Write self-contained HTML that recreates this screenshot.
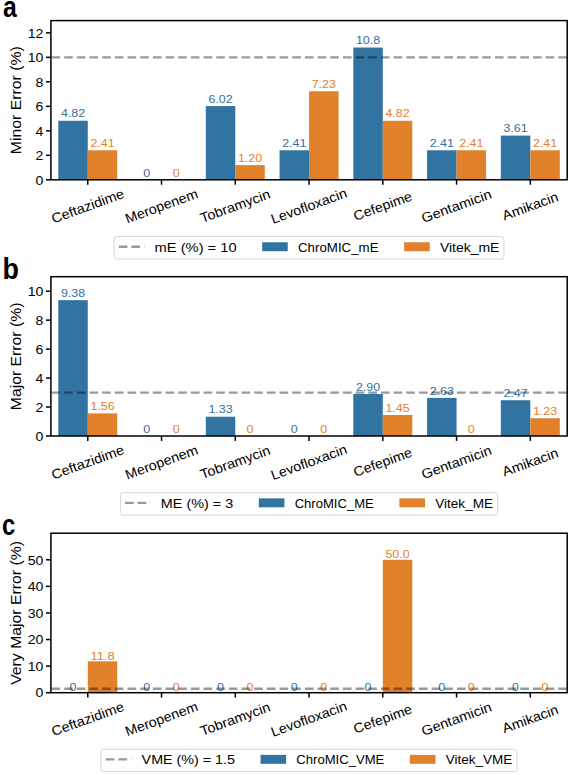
<!DOCTYPE html>
<html><head><meta charset="utf-8"><style>html,body{margin:0;padding:0;background:#fff;width:569px;height:775px;overflow:hidden}</style></head>
<body><svg width="569" height="775" viewBox="0 0 569 775" style="display:block">
<rect width="569" height="775" fill="#fff"/>
<g font-family='"Liberation Sans", sans-serif'>
<rect x="58.28" y="120.77" width="29.5" height="59.03" fill="#3274a1"/>
<rect x="87.78" y="150.29" width="29.5" height="29.51" fill="#e1812c"/>
<rect x="205.79" y="106.08" width="29.5" height="73.72" fill="#3274a1"/>
<rect x="235.29" y="165.1" width="29.5" height="14.7" fill="#e1812c"/>
<rect x="279.55" y="150.29" width="29.5" height="29.51" fill="#3274a1"/>
<rect x="309.05" y="91.26" width="29.5" height="88.54" fill="#e1812c"/>
<rect x="353.3" y="47.54" width="29.5" height="132.26" fill="#3274a1"/>
<rect x="382.81" y="120.77" width="29.5" height="59.03" fill="#e1812c"/>
<rect x="427.06" y="150.29" width="29.5" height="29.51" fill="#3274a1"/>
<rect x="456.56" y="150.29" width="29.5" height="29.51" fill="#e1812c"/>
<rect x="500.82" y="135.59" width="29.5" height="44.21" fill="#3274a1"/>
<rect x="530.32" y="150.29" width="29.5" height="29.51" fill="#e1812c"/>
<rect x="50.9" y="20.6" width="516.3" height="159.2" fill="none" stroke="#000" stroke-width="1.5" stroke-linejoin="miter"/>
<line x1="46" y1="179.8" x2="50.9" y2="179.8" stroke="#000" stroke-width="1.5"/>
<text x="43.4" y="184.53" font-size="13.2" text-anchor="end" fill="#000" textLength="7.83" lengthAdjust="spacingAndGlyphs">0</text>
<line x1="46" y1="155.31" x2="50.9" y2="155.31" stroke="#000" stroke-width="1.5"/>
<text x="43.4" y="160.03" font-size="13.2" text-anchor="end" fill="#000" textLength="7.83" lengthAdjust="spacingAndGlyphs">2</text>
<line x1="46" y1="130.82" x2="50.9" y2="130.82" stroke="#000" stroke-width="1.5"/>
<text x="43.4" y="135.54" font-size="13.2" text-anchor="end" fill="#000" textLength="7.83" lengthAdjust="spacingAndGlyphs">4</text>
<line x1="46" y1="106.32" x2="50.9" y2="106.32" stroke="#000" stroke-width="1.5"/>
<text x="43.4" y="111.05" font-size="13.2" text-anchor="end" fill="#000" textLength="7.83" lengthAdjust="spacingAndGlyphs">6</text>
<line x1="46" y1="81.83" x2="50.9" y2="81.83" stroke="#000" stroke-width="1.5"/>
<text x="43.4" y="86.56" font-size="13.2" text-anchor="end" fill="#000" textLength="7.83" lengthAdjust="spacingAndGlyphs">8</text>
<line x1="46" y1="57.34" x2="50.9" y2="57.34" stroke="#000" stroke-width="1.5"/>
<text x="43.4" y="62.06" font-size="13.2" text-anchor="end" fill="#000" textLength="15.65" lengthAdjust="spacingAndGlyphs">10</text>
<line x1="46" y1="32.85" x2="50.9" y2="32.85" stroke="#000" stroke-width="1.5"/>
<text x="43.4" y="37.57" font-size="13.2" text-anchor="end" fill="#000" textLength="15.65" lengthAdjust="spacingAndGlyphs">12</text>
<line x1="87.78" y1="179.8" x2="87.78" y2="184.7" stroke="#000" stroke-width="1.5"/>
<text x="87.78" y="210.69" font-size="13.6" text-anchor="middle" fill="#000" textLength="76.26" lengthAdjust="spacingAndGlyphs" transform="rotate(-20 87.78 206.2)">Ceftazidime</text>
<line x1="161.54" y1="179.8" x2="161.54" y2="184.7" stroke="#000" stroke-width="1.5"/>
<text x="161.54" y="210.69" font-size="13.6" text-anchor="middle" fill="#000" textLength="76.19" lengthAdjust="spacingAndGlyphs" transform="rotate(-20 161.54 206.2)">Meropenem</text>
<line x1="235.29" y1="179.8" x2="235.29" y2="184.7" stroke="#000" stroke-width="1.5"/>
<text x="235.29" y="210.69" font-size="13.6" text-anchor="middle" fill="#000" textLength="73.46" lengthAdjust="spacingAndGlyphs" transform="rotate(-20 235.29 206.2)">Tobramycin</text>
<line x1="309.05" y1="179.8" x2="309.05" y2="184.7" stroke="#000" stroke-width="1.5"/>
<text x="309.05" y="210.69" font-size="13.6" text-anchor="middle" fill="#000" textLength="79.81" lengthAdjust="spacingAndGlyphs" transform="rotate(-20 309.05 206.2)">Levofloxacin</text>
<line x1="382.81" y1="179.8" x2="382.81" y2="184.7" stroke="#000" stroke-width="1.5"/>
<text x="382.81" y="210.69" font-size="13.6" text-anchor="middle" fill="#000" textLength="61.22" lengthAdjust="spacingAndGlyphs" transform="rotate(-20 382.81 206.2)">Cefepime</text>
<line x1="456.56" y1="179.8" x2="456.56" y2="184.7" stroke="#000" stroke-width="1.5"/>
<text x="456.56" y="210.69" font-size="13.6" text-anchor="middle" fill="#000" textLength="73.5" lengthAdjust="spacingAndGlyphs" transform="rotate(-20 456.56 206.2)">Gentamicin</text>
<line x1="530.32" y1="179.8" x2="530.32" y2="184.7" stroke="#000" stroke-width="1.5"/>
<text x="530.32" y="210.69" font-size="13.6" text-anchor="middle" fill="#000" textLength="58.52" lengthAdjust="spacingAndGlyphs" transform="rotate(-20 530.32 206.2)">Amikacin</text>
<text x="73.03" y="117.47" font-size="11.8" text-anchor="middle" fill="#3274a1" textLength="24.27" lengthAdjust="spacingAndGlyphs">4.82</text>
<text x="102.53" y="146.99" font-size="11.8" text-anchor="middle" fill="#e1812c" textLength="24.27" lengthAdjust="spacingAndGlyphs">2.41</text>
<text x="146.78" y="176.5" font-size="11.8" text-anchor="middle" fill="#3274a1" textLength="6.93" lengthAdjust="spacingAndGlyphs">0</text>
<text x="176.29" y="176.5" font-size="11.8" text-anchor="middle" fill="#e1812c" textLength="6.93" lengthAdjust="spacingAndGlyphs">0</text>
<text x="220.54" y="102.78" font-size="11.8" text-anchor="middle" fill="#3274a1" textLength="24.27" lengthAdjust="spacingAndGlyphs">6.02</text>
<text x="250.04" y="161.8" font-size="11.8" text-anchor="middle" fill="#e1812c" textLength="24.27" lengthAdjust="spacingAndGlyphs">1.20</text>
<text x="294.3" y="146.99" font-size="11.8" text-anchor="middle" fill="#3274a1" textLength="24.27" lengthAdjust="spacingAndGlyphs">2.41</text>
<text x="323.8" y="87.96" font-size="11.8" text-anchor="middle" fill="#e1812c" textLength="24.27" lengthAdjust="spacingAndGlyphs">7.23</text>
<text x="368.06" y="44.24" font-size="11.8" text-anchor="middle" fill="#3274a1" textLength="24.27" lengthAdjust="spacingAndGlyphs">10.8</text>
<text x="397.56" y="117.47" font-size="11.8" text-anchor="middle" fill="#e1812c" textLength="24.27" lengthAdjust="spacingAndGlyphs">4.82</text>
<text x="441.81" y="146.99" font-size="11.8" text-anchor="middle" fill="#3274a1" textLength="24.27" lengthAdjust="spacingAndGlyphs">2.41</text>
<text x="471.32" y="146.99" font-size="11.8" text-anchor="middle" fill="#e1812c" textLength="24.27" lengthAdjust="spacingAndGlyphs">2.41</text>
<text x="515.57" y="132.29" font-size="11.8" text-anchor="middle" fill="#3274a1" textLength="24.27" lengthAdjust="spacingAndGlyphs">3.61</text>
<text x="545.07" y="146.99" font-size="11.8" text-anchor="middle" fill="#e1812c" textLength="24.27" lengthAdjust="spacingAndGlyphs">2.41</text>
<line x1="51.5" y1="57.34" x2="567.2" y2="57.34" stroke="#000" stroke-opacity="0.4" stroke-width="2.35" stroke-dasharray="8.65 4.02"/>
<text x="20.9" y="100.2" font-size="14.2" text-anchor="middle" fill="#000" textLength="107.94" lengthAdjust="spacingAndGlyphs" transform="rotate(-90 20.9 100.2)">Minor Error (%)</text>
<rect x="114.19" y="236.6" width="389.72" height="22.4" rx="2.5" fill="#fff" fill-opacity="0.8" stroke="#d6d6d6" stroke-width="1"/>
<line x1="118.79" y1="246.7" x2="144.39" y2="246.7" stroke="#000" stroke-opacity="0.4" stroke-width="2.35" stroke-dasharray="8.65 4.02"/>
<text x="154.63" y="251.6" font-size="13.2" text-anchor="start" fill="#000" textLength="81.93" lengthAdjust="spacingAndGlyphs">mE (%) = 10</text>
<rect x="262.16" y="242.25" width="25.6" height="8.96" fill="#3274a1"/>
<text x="298" y="251.6" font-size="13.2" text-anchor="start" fill="#000" textLength="80.58" lengthAdjust="spacingAndGlyphs">ChroMIC_mE</text>
<rect x="404.17" y="242.25" width="25.6" height="8.96" fill="#e1812c"/>
<text x="440.01" y="251.6" font-size="13.2" text-anchor="start" fill="#000" textLength="59.29" lengthAdjust="spacingAndGlyphs">Vitek_mE</text>
</g>
<g font-family='"Liberation Sans", sans-serif'>
<rect x="58.28" y="300.16" width="29.5" height="135.84" fill="#3274a1"/>
<rect x="87.78" y="413.41" width="29.5" height="22.59" fill="#e1812c"/>
<rect x="205.79" y="416.74" width="29.5" height="19.26" fill="#3274a1"/>
<rect x="353.3" y="394" width="29.5" height="42" fill="#3274a1"/>
<rect x="382.81" y="415" width="29.5" height="21" fill="#e1812c"/>
<rect x="427.06" y="397.91" width="29.5" height="38.09" fill="#3274a1"/>
<rect x="500.82" y="400.23" width="29.5" height="35.77" fill="#3274a1"/>
<rect x="530.32" y="418.19" width="29.5" height="17.81" fill="#e1812c"/>
<rect x="50.9" y="276.7" width="516.3" height="159.3" fill="none" stroke="#000" stroke-width="1.5" stroke-linejoin="miter"/>
<line x1="46" y1="436" x2="50.9" y2="436" stroke="#000" stroke-width="1.5"/>
<text x="43.4" y="440.73" font-size="13.2" text-anchor="end" fill="#000" textLength="7.83" lengthAdjust="spacingAndGlyphs">0</text>
<line x1="46" y1="407.04" x2="50.9" y2="407.04" stroke="#000" stroke-width="1.5"/>
<text x="43.4" y="411.76" font-size="13.2" text-anchor="end" fill="#000" textLength="7.83" lengthAdjust="spacingAndGlyphs">2</text>
<line x1="46" y1="378.07" x2="50.9" y2="378.07" stroke="#000" stroke-width="1.5"/>
<text x="43.4" y="382.8" font-size="13.2" text-anchor="end" fill="#000" textLength="7.83" lengthAdjust="spacingAndGlyphs">4</text>
<line x1="46" y1="349.11" x2="50.9" y2="349.11" stroke="#000" stroke-width="1.5"/>
<text x="43.4" y="353.83" font-size="13.2" text-anchor="end" fill="#000" textLength="7.83" lengthAdjust="spacingAndGlyphs">6</text>
<line x1="46" y1="320.15" x2="50.9" y2="320.15" stroke="#000" stroke-width="1.5"/>
<text x="43.4" y="324.87" font-size="13.2" text-anchor="end" fill="#000" textLength="7.83" lengthAdjust="spacingAndGlyphs">8</text>
<line x1="46" y1="291.18" x2="50.9" y2="291.18" stroke="#000" stroke-width="1.5"/>
<text x="43.4" y="295.91" font-size="13.2" text-anchor="end" fill="#000" textLength="15.65" lengthAdjust="spacingAndGlyphs">10</text>
<line x1="87.78" y1="436" x2="87.78" y2="440.9" stroke="#000" stroke-width="1.5"/>
<text x="87.78" y="466.89" font-size="13.6" text-anchor="middle" fill="#000" textLength="76.26" lengthAdjust="spacingAndGlyphs" transform="rotate(-20 87.78 462.4)">Ceftazidime</text>
<line x1="161.54" y1="436" x2="161.54" y2="440.9" stroke="#000" stroke-width="1.5"/>
<text x="161.54" y="466.89" font-size="13.6" text-anchor="middle" fill="#000" textLength="76.19" lengthAdjust="spacingAndGlyphs" transform="rotate(-20 161.54 462.4)">Meropenem</text>
<line x1="235.29" y1="436" x2="235.29" y2="440.9" stroke="#000" stroke-width="1.5"/>
<text x="235.29" y="466.89" font-size="13.6" text-anchor="middle" fill="#000" textLength="73.46" lengthAdjust="spacingAndGlyphs" transform="rotate(-20 235.29 462.4)">Tobramycin</text>
<line x1="309.05" y1="436" x2="309.05" y2="440.9" stroke="#000" stroke-width="1.5"/>
<text x="309.05" y="466.89" font-size="13.6" text-anchor="middle" fill="#000" textLength="79.81" lengthAdjust="spacingAndGlyphs" transform="rotate(-20 309.05 462.4)">Levofloxacin</text>
<line x1="382.81" y1="436" x2="382.81" y2="440.9" stroke="#000" stroke-width="1.5"/>
<text x="382.81" y="466.89" font-size="13.6" text-anchor="middle" fill="#000" textLength="61.22" lengthAdjust="spacingAndGlyphs" transform="rotate(-20 382.81 462.4)">Cefepime</text>
<line x1="456.56" y1="436" x2="456.56" y2="440.9" stroke="#000" stroke-width="1.5"/>
<text x="456.56" y="466.89" font-size="13.6" text-anchor="middle" fill="#000" textLength="73.5" lengthAdjust="spacingAndGlyphs" transform="rotate(-20 456.56 462.4)">Gentamicin</text>
<line x1="530.32" y1="436" x2="530.32" y2="440.9" stroke="#000" stroke-width="1.5"/>
<text x="530.32" y="466.89" font-size="13.6" text-anchor="middle" fill="#000" textLength="58.52" lengthAdjust="spacingAndGlyphs" transform="rotate(-20 530.32 462.4)">Amikacin</text>
<text x="73.03" y="296.86" font-size="11.8" text-anchor="middle" fill="#3274a1" textLength="24.27" lengthAdjust="spacingAndGlyphs">9.38</text>
<text x="102.53" y="410.11" font-size="11.8" text-anchor="middle" fill="#e1812c" textLength="24.27" lengthAdjust="spacingAndGlyphs">1.56</text>
<text x="146.78" y="432.7" font-size="11.8" text-anchor="middle" fill="#3274a1" textLength="6.93" lengthAdjust="spacingAndGlyphs">0</text>
<text x="176.29" y="432.7" font-size="11.8" text-anchor="middle" fill="#e1812c" textLength="6.93" lengthAdjust="spacingAndGlyphs">0</text>
<text x="220.54" y="413.44" font-size="11.8" text-anchor="middle" fill="#3274a1" textLength="24.27" lengthAdjust="spacingAndGlyphs">1.33</text>
<text x="250.04" y="432.7" font-size="11.8" text-anchor="middle" fill="#e1812c" textLength="6.93" lengthAdjust="spacingAndGlyphs">0</text>
<text x="294.3" y="432.7" font-size="11.8" text-anchor="middle" fill="#3274a1" textLength="6.93" lengthAdjust="spacingAndGlyphs">0</text>
<text x="323.8" y="432.7" font-size="11.8" text-anchor="middle" fill="#e1812c" textLength="6.93" lengthAdjust="spacingAndGlyphs">0</text>
<text x="368.06" y="390.7" font-size="11.8" text-anchor="middle" fill="#3274a1" textLength="24.27" lengthAdjust="spacingAndGlyphs">2.90</text>
<text x="397.56" y="411.7" font-size="11.8" text-anchor="middle" fill="#e1812c" textLength="24.27" lengthAdjust="spacingAndGlyphs">1.45</text>
<text x="441.81" y="394.61" font-size="11.8" text-anchor="middle" fill="#3274a1" textLength="24.27" lengthAdjust="spacingAndGlyphs">2.63</text>
<text x="471.32" y="432.7" font-size="11.8" text-anchor="middle" fill="#e1812c" textLength="6.93" lengthAdjust="spacingAndGlyphs">0</text>
<text x="515.57" y="396.93" font-size="11.8" text-anchor="middle" fill="#3274a1" textLength="24.27" lengthAdjust="spacingAndGlyphs">2.47</text>
<text x="545.07" y="414.89" font-size="11.8" text-anchor="middle" fill="#e1812c" textLength="24.27" lengthAdjust="spacingAndGlyphs">1.23</text>
<line x1="51.5" y1="392.55" x2="567.2" y2="392.55" stroke="#000" stroke-opacity="0.4" stroke-width="2.35" stroke-dasharray="8.65 4.02"/>
<text x="20.9" y="356.35" font-size="14.2" text-anchor="middle" fill="#000" textLength="107.64" lengthAdjust="spacingAndGlyphs" transform="rotate(-90 20.9 356.35)">Major Error (%)</text>
<rect x="120.4" y="492.7" width="377.3" height="22.4" rx="2.5" fill="#fff" fill-opacity="0.8" stroke="#d6d6d6" stroke-width="1"/>
<line x1="125" y1="502.8" x2="150.6" y2="502.8" stroke="#000" stroke-opacity="0.4" stroke-width="2.35" stroke-dasharray="8.65 4.02"/>
<text x="160.84" y="507.7" font-size="13.2" text-anchor="start" fill="#000" textLength="72.36" lengthAdjust="spacingAndGlyphs">ME (%) = 3</text>
<rect x="258.8" y="498.35" width="25.6" height="8.96" fill="#3274a1"/>
<text x="294.64" y="507.7" font-size="13.2" text-anchor="start" fill="#000" textLength="79.15" lengthAdjust="spacingAndGlyphs">ChroMIC_ME</text>
<rect x="399.39" y="498.35" width="25.6" height="8.96" fill="#e1812c"/>
<text x="435.23" y="507.7" font-size="13.2" text-anchor="start" fill="#000" textLength="57.87" lengthAdjust="spacingAndGlyphs">Vitek_ME</text>
</g>
<g font-family='"Liberation Sans", sans-serif'>
<rect x="87.78" y="661.33" width="29.5" height="31.37" fill="#e1812c"/>
<rect x="382.81" y="559.78" width="29.5" height="132.92" fill="#e1812c"/>
<rect x="50.9" y="533.2" width="516.3" height="159.5" fill="none" stroke="#000" stroke-width="1.5" stroke-linejoin="miter"/>
<line x1="46" y1="692.7" x2="50.9" y2="692.7" stroke="#000" stroke-width="1.5"/>
<text x="43.4" y="697.43" font-size="13.2" text-anchor="end" fill="#000" textLength="7.83" lengthAdjust="spacingAndGlyphs">0</text>
<line x1="46" y1="666.12" x2="50.9" y2="666.12" stroke="#000" stroke-width="1.5"/>
<text x="43.4" y="670.84" font-size="13.2" text-anchor="end" fill="#000" textLength="15.65" lengthAdjust="spacingAndGlyphs">10</text>
<line x1="46" y1="639.53" x2="50.9" y2="639.53" stroke="#000" stroke-width="1.5"/>
<text x="43.4" y="644.26" font-size="13.2" text-anchor="end" fill="#000" textLength="15.65" lengthAdjust="spacingAndGlyphs">20</text>
<line x1="46" y1="612.95" x2="50.9" y2="612.95" stroke="#000" stroke-width="1.5"/>
<text x="43.4" y="617.68" font-size="13.2" text-anchor="end" fill="#000" textLength="15.65" lengthAdjust="spacingAndGlyphs">30</text>
<line x1="46" y1="586.37" x2="50.9" y2="586.37" stroke="#000" stroke-width="1.5"/>
<text x="43.4" y="591.09" font-size="13.2" text-anchor="end" fill="#000" textLength="15.65" lengthAdjust="spacingAndGlyphs">40</text>
<line x1="46" y1="559.78" x2="50.9" y2="559.78" stroke="#000" stroke-width="1.5"/>
<text x="43.4" y="564.51" font-size="13.2" text-anchor="end" fill="#000" textLength="15.65" lengthAdjust="spacingAndGlyphs">50</text>
<line x1="87.78" y1="692.7" x2="87.78" y2="697.6" stroke="#000" stroke-width="1.5"/>
<text x="87.78" y="723.59" font-size="13.6" text-anchor="middle" fill="#000" textLength="76.26" lengthAdjust="spacingAndGlyphs" transform="rotate(-20 87.78 719.1)">Ceftazidime</text>
<line x1="161.54" y1="692.7" x2="161.54" y2="697.6" stroke="#000" stroke-width="1.5"/>
<text x="161.54" y="723.59" font-size="13.6" text-anchor="middle" fill="#000" textLength="76.19" lengthAdjust="spacingAndGlyphs" transform="rotate(-20 161.54 719.1)">Meropenem</text>
<line x1="235.29" y1="692.7" x2="235.29" y2="697.6" stroke="#000" stroke-width="1.5"/>
<text x="235.29" y="723.59" font-size="13.6" text-anchor="middle" fill="#000" textLength="73.46" lengthAdjust="spacingAndGlyphs" transform="rotate(-20 235.29 719.1)">Tobramycin</text>
<line x1="309.05" y1="692.7" x2="309.05" y2="697.6" stroke="#000" stroke-width="1.5"/>
<text x="309.05" y="723.59" font-size="13.6" text-anchor="middle" fill="#000" textLength="79.81" lengthAdjust="spacingAndGlyphs" transform="rotate(-20 309.05 719.1)">Levofloxacin</text>
<line x1="382.81" y1="692.7" x2="382.81" y2="697.6" stroke="#000" stroke-width="1.5"/>
<text x="382.81" y="723.59" font-size="13.6" text-anchor="middle" fill="#000" textLength="61.22" lengthAdjust="spacingAndGlyphs" transform="rotate(-20 382.81 719.1)">Cefepime</text>
<line x1="456.56" y1="692.7" x2="456.56" y2="697.6" stroke="#000" stroke-width="1.5"/>
<text x="456.56" y="723.59" font-size="13.6" text-anchor="middle" fill="#000" textLength="73.5" lengthAdjust="spacingAndGlyphs" transform="rotate(-20 456.56 719.1)">Gentamicin</text>
<line x1="530.32" y1="692.7" x2="530.32" y2="697.6" stroke="#000" stroke-width="1.5"/>
<text x="530.32" y="723.59" font-size="13.6" text-anchor="middle" fill="#000" textLength="58.52" lengthAdjust="spacingAndGlyphs" transform="rotate(-20 530.32 719.1)">Amikacin</text>
<text x="73.03" y="690.9" font-size="11.8" text-anchor="middle" fill="#3274a1" textLength="6.93" lengthAdjust="spacingAndGlyphs">0</text>
<text x="102.53" y="659.53" font-size="11.8" text-anchor="middle" fill="#e1812c" textLength="24.27" lengthAdjust="spacingAndGlyphs">11.8</text>
<text x="146.78" y="690.9" font-size="11.8" text-anchor="middle" fill="#3274a1" textLength="6.93" lengthAdjust="spacingAndGlyphs">0</text>
<text x="176.29" y="690.9" font-size="11.8" text-anchor="middle" fill="#e1812c" textLength="6.93" lengthAdjust="spacingAndGlyphs">0</text>
<text x="220.54" y="690.9" font-size="11.8" text-anchor="middle" fill="#3274a1" textLength="6.93" lengthAdjust="spacingAndGlyphs">0</text>
<text x="250.04" y="690.9" font-size="11.8" text-anchor="middle" fill="#e1812c" textLength="6.93" lengthAdjust="spacingAndGlyphs">0</text>
<text x="294.3" y="690.9" font-size="11.8" text-anchor="middle" fill="#3274a1" textLength="6.93" lengthAdjust="spacingAndGlyphs">0</text>
<text x="323.8" y="690.9" font-size="11.8" text-anchor="middle" fill="#e1812c" textLength="6.93" lengthAdjust="spacingAndGlyphs">0</text>
<text x="368.06" y="690.9" font-size="11.8" text-anchor="middle" fill="#3274a1" textLength="6.93" lengthAdjust="spacingAndGlyphs">0</text>
<text x="397.56" y="557.98" font-size="11.8" text-anchor="middle" fill="#e1812c" textLength="24.27" lengthAdjust="spacingAndGlyphs">50.0</text>
<text x="441.81" y="690.9" font-size="11.8" text-anchor="middle" fill="#3274a1" textLength="6.93" lengthAdjust="spacingAndGlyphs">0</text>
<text x="471.32" y="690.9" font-size="11.8" text-anchor="middle" fill="#e1812c" textLength="6.93" lengthAdjust="spacingAndGlyphs">0</text>
<text x="515.57" y="690.9" font-size="11.8" text-anchor="middle" fill="#3274a1" textLength="6.93" lengthAdjust="spacingAndGlyphs">0</text>
<text x="545.07" y="690.9" font-size="11.8" text-anchor="middle" fill="#e1812c" textLength="6.93" lengthAdjust="spacingAndGlyphs">0</text>
<line x1="51.5" y1="688.71" x2="567.2" y2="688.71" stroke="#000" stroke-opacity="0.4" stroke-width="2.35" stroke-dasharray="8.65 4.02"/>
<text x="20.9" y="612.95" font-size="14.2" text-anchor="middle" fill="#000" textLength="143.74" lengthAdjust="spacingAndGlyphs" transform="rotate(-90 20.9 612.95)">Very Major Error (%)</text>
<rect x="101.16" y="749.2" width="415.78" height="22.4" rx="2.5" fill="#fff" fill-opacity="0.8" stroke="#d6d6d6" stroke-width="1"/>
<line x1="105.76" y1="759.3" x2="131.36" y2="759.3" stroke="#000" stroke-opacity="0.4" stroke-width="2.35" stroke-dasharray="8.65 4.02"/>
<text x="141.6" y="764.2" font-size="13.2" text-anchor="start" fill="#000" textLength="93.33" lengthAdjust="spacingAndGlyphs">VME (%) = 1.5</text>
<rect x="260.53" y="754.85" width="25.6" height="8.96" fill="#3274a1"/>
<text x="296.37" y="764.2" font-size="13.2" text-anchor="start" fill="#000" textLength="87.91" lengthAdjust="spacingAndGlyphs">ChroMIC_VME</text>
<rect x="409.87" y="754.85" width="25.6" height="8.96" fill="#e1812c"/>
<text x="445.71" y="764.2" font-size="13.2" text-anchor="start" fill="#000" textLength="66.63" lengthAdjust="spacingAndGlyphs">Vitek_VME</text>
</g>
<text x="3.1" y="16.8" font-family='"Liberation Sans", sans-serif' font-weight="bold" font-size="29.5" transform="translate(3.1 16.8) scale(0.84 1) translate(-3.1 -16.8)">a</text>
<text x="2.6" y="279.2" font-family='"Liberation Sans", sans-serif' font-weight="bold" font-size="29.5" transform="translate(2.6 279.2) scale(0.91 1) translate(-2.6 -279.2)">b</text>
<text x="2.1" y="534.9" font-family='"Liberation Sans", sans-serif' font-weight="bold" font-size="29.5" transform="translate(2.1 534.9) scale(0.81 1) translate(-2.1 -534.9)">c</text>
</svg></body></html>
